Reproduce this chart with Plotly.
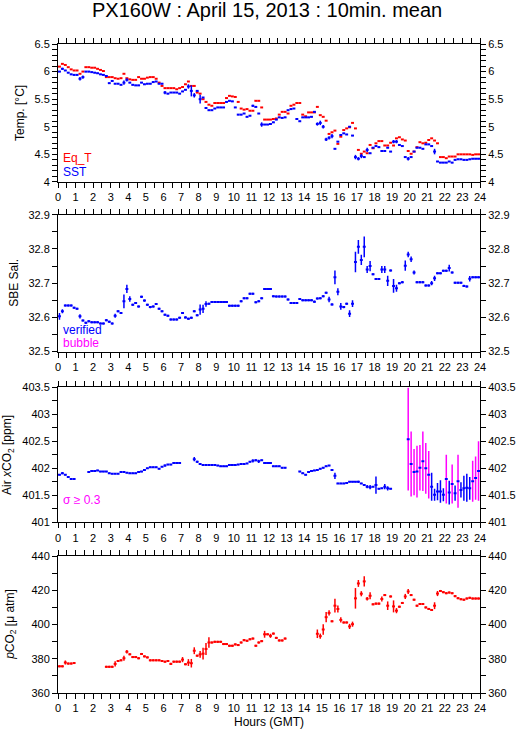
import plotly.graph_objects as go

N = None
# 10-minute slot centres (hours GMT)
HOURS = [i / 6 + 1 / 12 for i in range(144)]

EQ_T = [6.09, 6.14, 6.12, 6.08, 6.04, 6.02,
        6.02, 5.96, 6.00, 6.08, 6.08, 6.07,
        6.07, 6.05, 6.03, 6.01, 5.90, 5.90,
        5.90, 5.88, 5.87, 5.88, 5.96, 5.88,
        5.86, 5.85, 5.85, 5.90, 5.87, 5.87,
        5.89, 5.90, 5.90, 5.87, 5.80, 5.74,
        5.70, 5.70, 5.70, 5.70, 5.68, 5.70,
        5.72, 5.77, 5.82, 5.74, 5.74, 5.62,
        5.60, 5.50, 5.45, 5.40, 5.38, 5.43,
        5.43, 5.43, 5.43, 5.52, 5.56, 5.55,
        5.54, 5.45, 5.33, 5.31, 5.32, 5.29,
        5.29, 5.47, 5.47, 5.35, 5.13, 5.13,
        5.13, 5.14, 5.15, 5.22, 5.27, 5.27,
        5.24, 5.38, 5.40, 5.43, 5.43, 5.22,
        5.19, 5.26, 5.26, 5.26, 5.36, 5.21,
        5.18, 5.11, 4.87, 4.90, 4.93, 4.69,
        4.82, 4.94, 4.97, 4.99, 5.07, 4.97,
        4.58, 4.51, 4.55, 4.52, 4.67, 4.61,
        4.70, 4.74, 4.74, 4.66, 4.66, 4.71,
        4.66, 4.79, 4.81, 4.77, 4.75, 4.56,
        4.51, 4.55, 4.63, 4.72, 4.70, 4.71,
        4.76, 4.79, 4.75, 4.70, 4.45, 4.45,
        4.43, 4.46, 4.46, 4.46, 4.50, 4.50,
        4.50, 4.50, 4.50, 4.49, 4.50, 4.50]

SST = [6.00, 6.05, 6.02, 5.98, 5.95, 5.94,
       5.94, 5.87, 5.90, 6.00, 6.00, 5.99,
       5.98, 5.97, 5.95, 5.94, 5.92, 5.79,
       5.83, 5.78, 5.78, 5.76, 5.80, 5.85,
       5.80, 5.76, 5.75, 5.75, 5.80, 5.77,
       5.78, 5.78, 5.81, 5.82, 5.78, 5.78,
       5.62, 5.60, 5.62, 5.62, 5.62, 5.60,
       5.64, 5.67, 5.73, 5.65, 5.57, 5.65,
       5.50, 5.53, 5.34, 5.30, 5.30, 5.33,
       5.35, 5.35, 5.35, 5.45, 5.47, 5.46,
       5.35, 5.22, 5.22, 5.24, 5.18, 5.20,
       5.38, 5.36, 5.24, 5.04, 5.04, 5.04,
       5.05, 5.08, 5.13, 5.17, 5.16, 5.17,
       5.30, 5.32, 5.33, 5.14, 5.10, 5.17,
       5.17, 5.17, 5.18, 5.27, 5.05, 5.07,
       5.00, 4.77, 4.80, 4.83, 4.60, 4.73,
       4.85, 4.88, 4.86, 5.00, 4.84, 4.45,
       4.42, 4.47, 4.45, 4.58, 4.52, 4.62,
       4.65, 4.63, 4.56, 4.56, 4.62, 4.55,
       4.73, 4.73, 4.67, 4.65, 4.45, 4.42,
       4.45, 4.55, 4.62, 4.62, 4.60, 4.68,
       4.68, 4.65, 4.55, 4.37, 4.35, 4.35,
       4.35, 4.37, 4.35, 4.40, 4.41, 4.41,
       4.40, 4.40, 4.41, 4.42, 4.42, 4.42]

SST_SD = [0.01] * 144
for _i, _s in {1: 0.02, 7: 0.03, 8: 0.03, 22: 0.04, 23: 0.03, 36: 0.03, 44: 0.04,
               45: 0.1, 46: 0.04, 48: 0.08, 66: 0.02, 69: 0.04, 88: 0.03, 89: 0.04,
               90: 0.03, 91: 0.03, 92: 0.03, 93: 0.04, 101: 0.04, 102: 0.03,
               103: 0.04, 105: 0.04, 114: 0.03, 115: 0.03, 119: 0.03, 128: 0.05}.items():
    SST_SD[_i] = _s

SAL = [32.603, 32.618, 32.635, 32.635, 32.635, 32.628,
       32.625, 32.603, 32.591, 32.584, 32.589, 32.586,
       32.586, 32.586, 32.582, 32.582, 32.592, 32.587,
       32.582, 32.605, 32.618, 32.613, 32.647, 32.683,
       32.654, 32.637, 32.642, 32.632, 32.660, 32.649,
       32.637, 32.630, 32.632, 32.639, 32.625, 32.618,
       32.608, 32.605, 32.594, 32.594, 32.594, 32.599,
       32.613, 32.600, 32.596, 32.599, 32.618, 32.606,
       32.623, 32.625, 32.639, 32.640, 32.645, 32.645,
       32.645, 32.645, 32.645, 32.645, 32.634, 32.634,
       32.634, 32.634, 32.647, 32.656, 32.656, 32.669,
       32.669, 32.644, 32.647, 32.656, 32.683, 32.683,
       32.683, 32.662, 32.661, 32.661, 32.661, 32.661,
       32.652, 32.642, 32.642, 32.642, 32.654, 32.650,
       32.650, 32.650, 32.650, 32.646, 32.655, 32.656,
       32.662, 32.672, 32.652, 32.638, 32.717, 32.675,
       32.632, 32.630, 32.640, 32.611, 32.640, 32.762,
       32.806, 32.768, 32.806, 32.740, 32.750, 32.726,
       32.712, 32.712, 32.740, 32.740, 32.707, 32.737,
       32.692, 32.685, 32.700, 32.703, 32.751, 32.784,
       32.770, 32.731, 32.703, 32.703, 32.703, 32.693,
       32.693, 32.700, 32.714, 32.729, 32.729, 32.736,
       32.736, 32.744, 32.731, 32.701, 32.701, 32.701,
       32.692, 32.690, 32.713, 32.717, 32.717, 32.717]

SAL_SD = [0.003] * 144
for _i, _s in {0: 0.01, 1: 0.006, 7: 0.006, 19: 0.006, 22: 0.02, 23: 0.012, 24: 0.008,
               48: 0.015, 49: 0.012, 50: 0.008, 92: 0.008, 94: 0.02, 95: 0.01, 96: 0.01,
               99: 0.01, 100: 0.01, 101: 0.03, 102: 0.02, 103: 0.015, 104: 0.03,
               105: 0.01, 106: 0.015, 110: 0.01, 111: 0.01, 112: 0.015, 114: 0.02,
               115: 0.01, 118: 0.015, 119: 0.008, 120: 0.008, 121: 0.006,
               127: 0.006, 128: 0.008, 133: 0.01, 140: 0.008}.items():
    SAL_SD[_i] = _s

XCO2 = [401.88, 401.91, 401.88, 401.84, 401.80, 401.80,
        N, N, N, N, 401.93, 401.95,
        401.95, 401.96, 401.94, 401.94, 401.94, 401.91,
        401.90, 401.90, 401.90, 401.93, 401.93, 401.92,
        401.91, 401.91, 401.91, 401.93, 401.94, 401.97,
        402.00, 402.02, 402.02, 402.02, 401.99, 402.03,
        402.05, 402.07, 402.07, 402.10, 402.10, 402.10,
        N, N, N, N, 402.17, 402.12,
        402.08, 402.06, 402.06, 402.06, 402.06, 402.06,
        402.05, 402.04, 402.04, 402.04, 402.06, 402.06,
        402.06, 402.07, 402.08, 402.08, 402.09, 402.12,
        402.14, 402.15, 402.13, 402.15, 402.10, 402.10,
        402.10, 402.04, 402.04, 402.04, 402.01, 402.01,
        N, N, N, N, 401.94, 401.91,
        401.88, 401.93, 401.95, 401.96, 401.97, 401.99,
        402.01, 402.04, 402.05, 401.97, 401.86, 401.72,
        401.72, 401.72, 401.73, 401.75, 401.75, 401.75,
        401.75, 401.72, 401.69, 401.66, 401.65, 401.66,
        401.69, 401.62, 401.63, 401.66, 401.63, 401.62,
        N, N, N, N, N, 402.54,
        402.08, 401.93, 401.94, 402.01, 402.13, 402.00,
        401.88, 401.66, 401.51, 401.57, 401.57, 401.51,
        401.80, 401.55, 401.71, 401.54, 401.76, 401.60,
        401.63, 401.64, 401.63, 401.76, 401.82, 401.95]

XCO2_SD = [0.012] * 144
for _i, _s in {1: 0.02, 3: 0.015, 11: 0.02, 29: 0.015, 36: 0.02, 46: 0.04, 47: 0.02,
               66: 0.03, 67: 0.02, 68: 0.03, 94: 0.06, 102: 0.02, 105: 0.03, 106: 0.04,
               108: 0.16, 111: 0.05, 112: 0.04,
               119: 0.95, 120: 0.60, 121: 0.43, 122: 0.48, 123: 0.42, 124: 0.55,
               125: 0.47, 126: 0.44, 127: 0.26, 128: 0.11, 129: 0.16, 130: 0.21,
               131: 0.12, 132: 0.45, 133: 0.22, 134: 0.36, 135: 0.14, 136: 0.49,
               137: 0.14, 138: 0.23, 139: 0.26, 140: 0.21, 141: 0.38, 142: 0.40,
               143: 0.55}.items():
    XCO2_SD[_i] = _s

PCO2 = [375.6, 375.6, 377.8, 377.2, 377.2, 377.5,
        N, N, N, N, N, N,
        N, N, N, N, 375.3, 375.3,
        375.3, 377.0, 378.7, 379.1, 380.3, 384.1,
        382.6, 381.0, 381.0, 380.3, 382.8, 381.4,
        380.8, 379.1, 379.1, 379.1, 379.1, 378.7,
        378.3, 378.7, 377.0, 378.3, 378.3, 378.3,
        379.5, 376.8, 377.8, 377.4, 384.7, 381.8,
        382.6, 383.0, 385.7, 389.5, 389.5, 389.9,
        389.9, 389.9, 388.6, 388.6, 387.6, 387.6,
        388.4, 388.0, 389.5, 390.9, 390.5, 391.4,
        391.8, 387.6, 389.5, 390.3, 394.3, 394.3,
        393.4, 394.7, 392.2, 390.7, 390.7, 391.8,
        N, N, N, N, N, N,
        N, N, N, N, 394.6, 393.2,
        397.1, 404.3, 406.8, 401.9, 411.0, 409.1,
        402.7, 401.2, 401.2, 398.9, 400.2, 415.3,
        424.0, 418.0, 425.2, 415.1, 416.8, 411.8,
        412.2, 412.2, 414.9, 417.2, 411.0, 416.4,
        410.6, 408.1, 410.4, 412.6, 416.4, 419.3,
        417.2, 414.5, 411.0, 412.0, 412.0, 410.0,
        409.1, 408.5, 411.0, 418.1, 419.6, 418.9,
        418.3, 418.7, 418.3, 416.6, 415.4, 414.8,
        414.5, 415.2, 415.6, 415.2, 415.2, 415.2]

PCO2_SD = [0.6] * 144
for _i, _s in {2: 1.2, 19: 1.5, 22: 1.5, 23: 1.0, 42: 1.5, 44: 2.0, 45: 2.5, 46: 2.0,
               48: 2.0, 49: 3.5, 50: 3.5, 51: 3.0, 70: 2.0, 72: 1.2, 88: 2.5, 89: 1.5,
               90: 3.0, 91: 3.0, 92: 1.5, 94: 4.0, 95: 2.0, 96: 1.5, 99: 1.5, 100: 1.5,
               101: 6.0, 102: 2.0, 103: 1.5, 104: 3.0, 105: 1.0, 106: 2.0, 110: 1.5,
               112: 2.5, 114: 3.5, 115: 1.5, 118: 1.5, 119: 1.5, 128: 2.0, 129: 1.5}.items():
    PCO2_SD[_i] = _s

SIGMA_LIMIT = 0.3
HALF_SLOT = 1 / 12

RED = "#ff0000"
BLUE = "#0000ff"
MAGENTA = "#ff00ff"
FONT = "Liberation Sans, Arial, sans-serif"


def series(y, sd, color, xa, ya, draw_x=True, thick=1.5):
    return go.Scatter(
        x=HOURS, y=y, xaxis=xa, yaxis=ya, mode="markers",
        marker=dict(size=2, color=color, opacity=0),
        error_x=dict(type="constant", value=HALF_SLOT, color=color, thickness=2,
                     width=0, visible=draw_x),
        error_y=dict(type="data", array=sd, color=color, thickness=thick, width=0),
        showlegend=False, hoverinfo="skip")


fig = go.Figure()
# panel 1
fig.add_trace(series(EQ_T, [0.0] * 144, RED, "x", "y"))
fig.add_trace(series(SST, SST_SD, BLUE, "x", "y"))
# panel 2
fig.add_trace(series(SAL, SAL_SD, BLUE, "x2", "y2"))
# panel 3
big = [s if s >= SIGMA_LIMIT else 0 for s in XCO2_SD]
small = [s if s < SIGMA_LIMIT else 0 for s in XCO2_SD]
fig.add_trace(go.Scatter(x=HOURS, y=XCO2, xaxis="x3", yaxis="y3", mode="markers",
                         marker=dict(size=2, color=MAGENTA, opacity=0),
                         error_y=dict(type="data", array=big, color=MAGENTA,
                                      thickness=1.5, width=0),
                         showlegend=False, hoverinfo="skip"))
fig.add_trace(series(XCO2, small, BLUE, "x3", "y3"))
# panel 4
fig.add_trace(series(PCO2, PCO2_SD, RED, "x4", "y4"))

domains = [[0.7875, 1.0], [0.526, 0.737], [0.263, 0.471], [0.0, 0.211]]
yranges = [[4, 6.5], [32.5, 32.9], [401, 403.5], [360, 440]]
ydticks = [0.5, 0.1, 0.5, 20]
yminor = [0.1, 0.05, 0.25, 10]
tickfont = dict(family=FONT, size=11, color="black")

layout = dict(
    width=529, height=739,
    margin=dict(l=58, r=49, t=44, b=41),
    paper_bgcolor="white", plot_bgcolor="white",
    font=dict(family=FONT, size=11, color="black"),
    title=dict(text="PX160W : April 15, 2013 : 10min. mean", x=0.505, xanchor="center",
               y=0.9865, yanchor="middle", font=dict(family=FONT, size=20, color="black")),
    showlegend=False,
)

for k in range(4):
    sfx = "" if k == 0 else str(k + 1)
    layout["xaxis" + sfx] = dict(
        domain=[0, 1], anchor="y" + sfx, range=[0, 24], tick0=0, dtick=1,
        ticks="outside", ticklen=5, tickwidth=1, tickcolor="black",
        showline=True, linecolor="black", linewidth=1, mirror="ticks",
        showgrid=False, zeroline=False, tickfont=tickfont,
        minor=dict(dtick=0.5, tick0=0, ticks="outside", ticklen=5, tickcolor="black",
                   showgrid=False),
    )
    layout["yaxis" + sfx] = dict(
        domain=domains[k], anchor="x" + sfx, range=yranges[k], tick0=yranges[k][0],
        dtick=ydticks[k], ticks="outside", ticklen=5, tickwidth=1, tickcolor="black",
        showline=True, linecolor="black", linewidth=1, mirror="ticks",
        showgrid=False, zeroline=False, tickfont=tickfont,
        minor=dict(dtick=yminor[k], tick0=yranges[k][0], ticks="outside", ticklen=5,
                   tickcolor="black", showgrid=False),
    )
    layout["yaxis" + str(k + 5)] = dict(
        overlaying="y" + sfx, anchor="x" + sfx, side="right", range=yranges[k],
        tick0=yranges[k][0], dtick=ydticks[k], ticks="outside", ticklen=5,
        tickcolor="black", showline=False, showgrid=False, zeroline=False,
        tickfont=tickfont,
    )

layout["xaxis4"]["title"] = dict(text="Hours (GMT)", font=dict(family=FONT, size=12),
                                 standoff=4)

fig.update_layout(**layout)
# empty traces so the right-hand axes render
for k in range(4):
    sfx = "" if k == 0 else str(k + 1)
    fig.add_trace(go.Scatter(x=[None], y=[None], xaxis="x" + sfx, yaxis="y" + str(k + 5),
                             showlegend=False, hoverinfo="skip"))

ylabels = [("Temp. [°C]", -0.09), ("SBE Sal.", -0.105),
           ("Air <i>x</i>CO<sub>2</sub> [ppm]", -0.118), ("<i>p</i>CO<sub>2</sub> [μ atm]", -0.113)]
for k, (txt, xp) in enumerate(ylabels):
    sfx = "" if k == 0 else str(k + 1)
    fig.add_annotation(text=txt, xref="paper", yref="y" + sfx + " domain", x=xp, y=0.5,
                       textangle=-90, showarrow=False, xanchor="center", yanchor="middle",
                       font=dict(family=FONT, size=12, color="black"))

notes = [("Eq_T", RED, "", 0.173), ("SST", BLUE, "", 0.072),
         ("verified", BLUE, "2", 0.16), ("bubble", MAGENTA, "2", 0.065),
         ("σ ≥ 0.3", MAGENTA, "3", 0.162)]
for txt, col, sfx, yp in notes:
    fig.add_annotation(text=txt, xref="x" + sfx + " domain", yref="y" + sfx + " domain",
                       x=0.008, y=yp, xanchor="left", yanchor="middle", showarrow=False,
                       font=dict(family=FONT, size=12, color=col))

fig.write_html("out.html", config={"displayModeBar": False},
               post_script="document.body.style.margin='0px';")
